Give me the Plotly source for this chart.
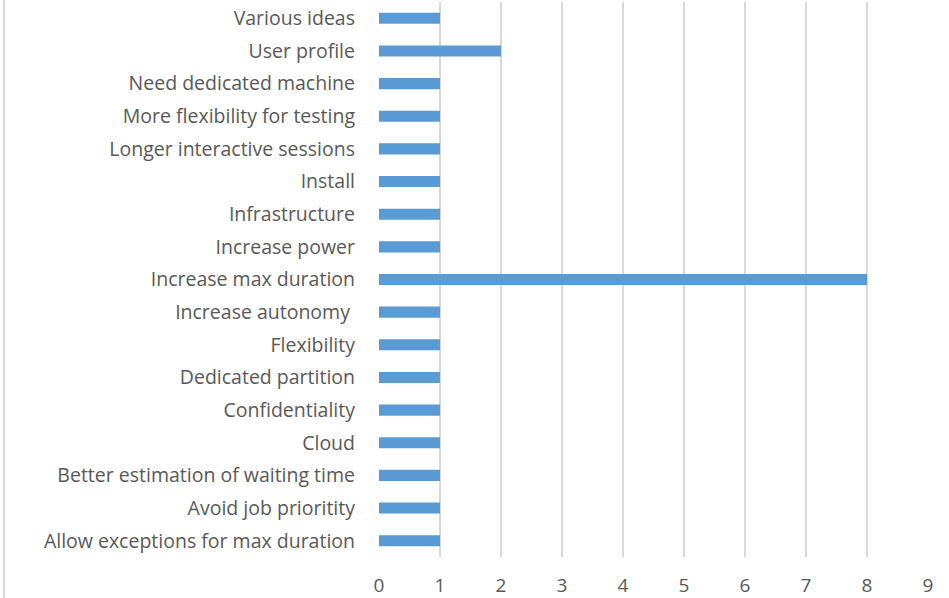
import plotly.graph_objects as go

categories = [
    "Allow exceptions for max duration",
    "Avoid job prioritity",
    "Better estimation of waiting time",
    "Cloud",
    "Confidentiality",
    "Dedicated partition",
    "Flexibility",
    "Increase autonomy ",
    "Increase max duration",
    "Increase power",
    "Infrastructure",
    "Install",
    "Longer interactive sessions",
    "More flexibility for testing",
    "Need dedicated machine",
    "User profile",
    "Various ideas",
]
values = [1, 1, 1, 1, 1, 1, 1, 1, 8, 1, 1, 1, 1, 1, 1, 2, 1]
x_ticks = list(range(0, 10))

fig = go.Figure(go.Bar(
    x=values, y=categories, orientation="h",
    marker=dict(color="#5B9BD5", line=dict(width=0)),
    width=0.34,
))

font_family = "Open Sans, Liberation Sans, sans-serif"
fig.update_layout(
    width=949, height=598,
    margin=dict(l=379, r=21, t=2, b=41),
    paper_bgcolor="white", plot_bgcolor="white",
    showlegend=False,
    font=dict(family=font_family, size=19, color="#595959"),
    xaxis=dict(
        range=[0, 9], tickvals=x_ticks, showgrid=True, gridcolor="#d9d9d9", gridwidth=2,
        zeroline=False, showline=False, ticks="", ticklabelstandoff=15,
        tickfont=dict(size=19, color="#595959"), automargin=False,
    ),
    yaxis=dict(
        categoryorder="array", categoryarray=categories,
        showgrid=False, zeroline=False, showline=False, ticks="",
        ticklabelstandoff=23, tickfont=dict(size=19.5, color="#595959"),
        range=[-0.5, len(categories) - 0.5], automargin=False,
    ),
    shapes=[dict(
        type="line", xref="paper", yref="paper",
        x0=(4 - 379) / 549, x1=(4 - 379) / 549, y0=1.01, y1=-0.08,
        line=dict(color="#d9d9d9", width=2),
    )],
)

fig.write_html("out.html", config={"displayModeBar": False},
               post_script="document.body.style.margin='0';")
